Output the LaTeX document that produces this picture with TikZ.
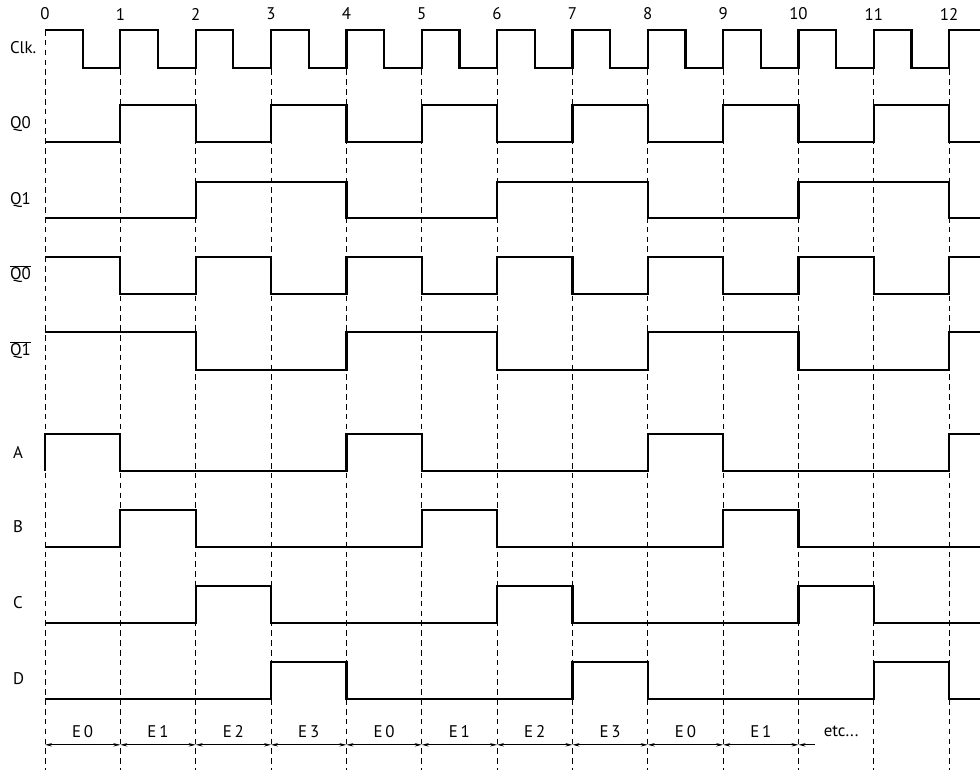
\documentclass[tikz,border=0pt]{standalone}
\usepackage{fontspec}
\setmainfont{PT Sans}
\usetikzlibrary{arrows.meta,positioning}

\begin{document}
\begin{tikzpicture}[x=1.88375cm,y=-0.025cm,font=\large,
  wave/.style={line width=1.6pt,line join=miter},
  gridline/.style={dashed,dash pattern=on 4pt off 3pt,line width=0.6pt},
  dimline/.style={{Stealth[length=5pt,width=2.4pt]}-{Stealth[length=5pt,width=2.4pt]},line width=0.6pt},
  lbl/.style={anchor=west}]
\useasboundingbox (-0.5972,0) rectangle (12.409,770);

% grid and clock numbers
\foreach \k in {0,...,12} {
  \draw[gridline] (\k,30) -- (\k,770);
  \node (t\k) at (\k,14) {\k};
}

% signal names
\node[lbl] (lclk) at (-0.53,48) {Clk.};
\node[lbl] (lq0) at (-0.53,124) {Q0};
\node[lbl] (lq1) at (-0.53,200) {Q1};
\node[lbl] (lnq0) at (-0.53,274) {$\overline{\mbox{Q0}}$};
\node[lbl] (lnq1) at (-0.53,350) {$\overline{\mbox{Q1}}$};
\node[lbl] (la) at (-0.49,453) {A};
\node[lbl] (lb) at (-0.49,527) {B};
\node[lbl] (lc) at (-0.49,603) {C};
\node[lbl] (ld) at (-0.49,679) {D};

% waveforms
\draw[wave] (0,30) \foreach \k in {0,...,11} { -| (\k+0.5,68) -| (\k+1,30) } -- (12.409,30);
\draw[wave] (0,142) -- (1,142) |- (2,105) |- (3,142) |- (4,105) |- (5,142) |- (6,105) |- (7,142) |- (8,105) |- (9,142) |- (10,105) |- (11,142) |- (12,105) |- (12.409,142);
\draw[wave] (0,218) -- (2,218) |- (4,182) |- (6,218) |- (8,182) |- (10,218) |- (12,182) |- (12.409,218);
\draw[wave] (0,257) -- (1,257) |- (2,294) |- (3,257) |- (4,294) |- (5,257) |- (6,294) |- (7,257) |- (8,294) |- (9,257) |- (10,294) |- (11,257) |- (12,294) |- (12.409,257);
\draw[wave] (0,332) -- (2,332) |- (4,370) |- (6,332) |- (8,370) |- (10,332) |- (12,370) |- (12.409,332);
\draw[wave] (0,471) |- (1,434) |- (4,471) |- (5,434) |- (8,471) |- (9,434) |- (12,471) |- (12.409,434);
\draw[wave] (0,547) -- (1,547) |- (2,510) |- (5,547) |- (6,510) |- (9,547) |- (10,510) |- (12.409,547);
\draw[wave] (0,623) -- (2,623) |- (3,586) |- (6,623) |- (7,586) |- (10,623) |- (11,586) |- (12.409,623);
\draw[wave] (0,699) -- (3,699) |- (4,662) |- (7,699) |- (8,662) |- (11,699) |- (12,662) |- (12.409,699);

% states
\foreach \k in {0,...,10} \coordinate (m\k) at (\k,745);
\coordinate (mend) at (10.22,745);
\foreach \k/\s in {0/0,1/1,2/2,3/3,4/0,5/1,6/2,7/3,8/0,9/1} {
  \pgfmathtruncatemacro\kk{\k+1}
  \draw[dimline] (m\k) -- (m\kk);
  \node (e\k) at (\k+0.5,732) {E\,\s};
}
\draw[{Stealth[length=5pt,width=2.4pt]}-,line width=0.6pt] (m10) -- (mend);
\node[anchor=west] (etc) at (10.27,732) {etc...};
\end{tikzpicture}
\end{document}
